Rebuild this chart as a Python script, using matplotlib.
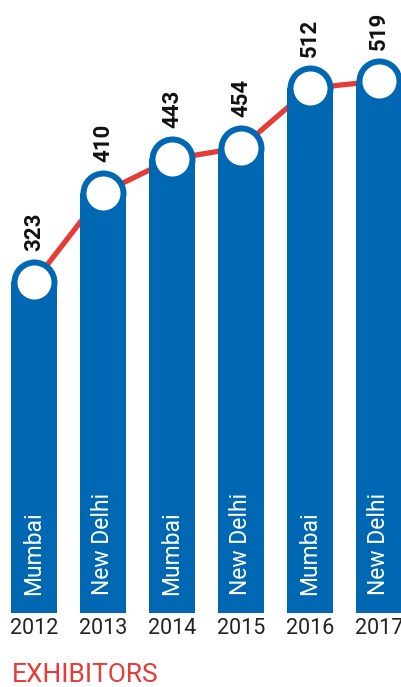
import matplotlib
matplotlib.use("Agg")
import matplotlib.pyplot as plt
import numpy as np

# data
years = ['2012', '2013', '2014', '2015', '2016', '2017']
cities = ['Mumbai', 'New Delhi', 'Mumbai', 'New Delhi', 'Mumbai', 'New Delhi']
exhibitors = [323, 410, 443, 454, 512, 519]
title = 'EXHIBITORS'

blue = '#0068b3'
red = '#e63b36'

plt.rcParams['font.family'] = ['Roboto', 'DejaVu Sans']

W, H, dpi = 402, 687, 100
fig = plt.figure(figsize=(W / dpi, H / dpi), dpi=dpi)
ax = fig.add_axes([0, 0, 1, 1])
ax.set_axis_off()

# pixel layout: bar centres every 69px starting at 34, baseline at 613px, 1.025px per unit
x0, dx = 34, 69
base, scale = 613, 1.025
ax.set_xlim(-x0 / dx, (W - x0) / dx)
ax.set_ylim((base - H) / scale, base / scale)

x = np.arange(len(years))
bw = 46 / dx

ax.plot(x, exhibitors, color=red, lw=3.8, zorder=1, solid_capstyle='round')
ax.bar(x, exhibitors, width=bw, color=blue, zorder=2)

outer_d = 46 * 72 / dpi
inner_d = 34 * 72 / dpi
ax.scatter(x, exhibitors, s=outer_d ** 2, color=blue, zorder=3, linewidths=0)
ax.scatter(x, exhibitors, s=inner_d ** 2, color='white', zorder=4, linewidths=0)

for i in x:
    v = exhibitors[i]
    ax.text(i, v + 31 / scale, str(v), rotation=90, ha='center', va='bottom',
            fontsize=16, fontweight='bold', color='#111111')
    ax.text(i, 18 / scale, cities[i], rotation=90, ha='center', va='bottom',
            fontsize=16.5, color='white', zorder=5)
    ax.text(i, -16 / scale, years[i], ha='center', va='center',
            fontsize=15.5, color='#222222')

fig.text(12 / W, 1 - 675 / H, title, ha='left', va='center',
         fontsize=19, color=red)

fig.savefig('out.png', dpi=dpi)
